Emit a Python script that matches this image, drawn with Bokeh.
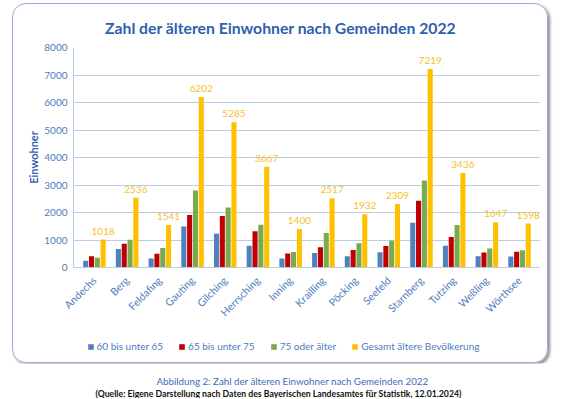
import math
from bokeh.plotting import figure
from bokeh.layouts import column
from bokeh.models import ColumnDataSource, FactorRange, Legend, LegendItem, Label
from bokeh.transform import dodge
from bokeh.core.properties import value
from bokeh.embed import file_html
from bokeh.resources import INLINE

cats = ["Andechs", "Berg", "Feldafing", "Gauting", "Gilching", "Herrsching", "Inning",
        "Krailling", "Pöcking", "Seefeld", "Starnberg", "Tutzing", "Weßling", "Wörthsee"]
a60 = [250, 670, 330, 1490, 1230, 795, 330, 530, 410, 555, 1630, 790, 410, 398]
a65 = [410, 860, 500, 1910, 1870, 1320, 510, 735, 640, 785, 2425, 1105, 550, 570]
a75 = [358, 1006, 711, 2802, 2185, 1552, 560, 1252, 882, 969, 3164, 1541, 687, 630]
gesamt = [1018, 2536, 1541, 6202, 5285, 3667, 1400, 2517, 1932, 2309, 7219, 3436, 1647, 1598]
series_names = ["60 bis unter 65", "65 bis unter 75", "75 oder älter", "Gesamt ältere Bevölkerung"]
y_ticks = [0, 1000, 2000, 3000, 4000, 5000, 6000, 7000, 8000]

title_text = "Zahl der älteren Einwohner nach Gemeinden 2022"
caption1 = "Abbildung 2: Zahl der älteren Einwohner nach Gemeinden 2022"
caption2 = "(Quelle: Eigene Darstellung nach Daten des Bayerischen Landesamtes für Statistik, 12.01.2024)"

colors = ["#4F81BD", "#C00000", "#7AAA4E", "#FFC000"]
FONT = "Lato"
AXIS_TXT = "#4F7CC0"
GRID = "#B9CDE8"

src = ColumnDataSource(dict(cat=cats, a60=a60, a65=a65, a75=a75, gesamt=gesamt,
                            glabel=[str(v) for v in gesamt]))

p = figure(width=534, height=321,
           x_range=FactorRange(*cats, range_padding=0.14, range_padding_units="absolute"),
           y_range=(0, 8000), output_backend="svg", toolbar_location=None,
           min_border_left=60, min_border_right=7, min_border_top=42, min_border_bottom=58)
p.background_fill_color = "white"
p.border_fill_color = None
p.outline_line_color = None

offsets = [-0.267, -0.089, 0.089, 0.267]
fields = ["a60", "a65", "a75", "gesamt"]
for off, f, c in zip(offsets, fields, colors):
    p.vbar(x=dodge("cat", off, range=p.x_range), top=f, width=0.155, source=src,
           fill_color=c, line_color=None)

p.text(x=dodge("cat", 0.267, range=p.x_range), y="gesamt", text="glabel", source=src,
       text_align="center", text_baseline="bottom", y_offset=-5,
       text_font=value(FONT), text_font_size="10px", text_color="#F9BE2C")

# title
p.title.text = title_text
p.title.align = "left"
p.title.offset = 31.5
p.title.standoff = 22
p.title.text_font = FONT
p.title.text_font_size = "15.75px"
p.title.text_font_style = "bold"
p.title.text_color = "#2F60AE"

# axes
p.xaxis.major_label_orientation = math.pi / 4
p.xaxis.major_tick_line_color = None
p.xaxis.major_tick_out = 0
p.xaxis.minor_tick_line_color = None
p.xaxis.axis_line_color = GRID
p.xaxis.major_label_standoff = 11
p.xaxis.major_label_text_font = FONT
p.xaxis.major_label_text_font_size = "10.5px"
p.xaxis.major_label_text_color = AXIS_TXT

p.yaxis.ticker = y_ticks
p.yaxis.major_tick_line_color = None
p.yaxis.major_tick_out = 0
p.yaxis.minor_tick_line_color = None
p.yaxis.axis_line_color = GRID
p.yaxis.major_label_standoff = 6
p.yaxis.major_label_text_font = FONT
p.yaxis.major_label_text_font_size = "10px"
p.yaxis.major_label_text_color = AXIS_TXT
p.yaxis.axis_label = "Einwohner"
p.yaxis.axis_label_text_font = FONT
p.yaxis.axis_label_text_font_style = "bold"
p.yaxis.axis_label_text_font_size = "11px"
p.yaxis.axis_label_text_color = "#3263AE"
p.yaxis.axis_label_standoff = 1

p.xgrid.grid_line_color = None
p.ygrid.grid_line_color = GRID

# legend strip (inside the box, below the chart)
lf = figure(width=534, height=37, x_range=(0, 1), y_range=(0, 1),
            x_axis_type=None, y_axis_type=None, output_backend="svg", toolbar_location=None,
            min_border=0)
lf.outline_line_color = None
lf.grid.visible = False
lf.background_fill_color = None
lf.border_fill_color = None
lrends = [lf.vbar(x=[-10], top=[0], width=0.1, fill_color=c, line_color=None) for c in colors]
legend = Legend(items=[LegendItem(label=n, renderers=[r]) for n, r in zip(series_names, lrends)],
                orientation="horizontal", location=(13.5, 10),
                border_line_color=None, background_fill_alpha=0, padding=0, margin=0,
                spacing=15, label_standoff=3, glyph_width=7, glyph_height=7, label_height=10,
                label_text_font=FONT, label_text_font_size="10px", label_text_color=AXIS_TXT)
lf.add_layout(legend, "center")

boxed = column(p, lf, spacing=0)
boxed.margin = (3, 0, 0, 12)
boxed.styles = {"border": "1.5px solid #96AFD2", "border-radius": "14px",
                "box-shadow": "2px 2px 3px rgba(0,0,0,0.45)"}

# caption strip
cap = figure(width=563, height=35, x_range=(0, 563), y_range=(399, 364),
             x_axis_type=None, y_axis_type=None, output_backend="svg", toolbar_location=None,
             min_border=0)
cap.outline_line_color = None
cap.grid.visible = False
cap.add_layout(Label(x=292, y=381.5, text=caption1,
                     text_font=FONT, text_font_size="9.75px",
                     text_color="#3D6DB8", text_align="center", text_baseline="middle"))
cap.add_layout(Label(x=278, y=393.5, text=caption2,
                     text_font=FONT, text_font_size="8.7px", text_font_style="bold",
                     text_color="#111111", text_align="center", text_baseline="middle"))

layout = column(boxed, cap, spacing=0)
open("out.html", "w").write(file_html(layout, INLINE))
